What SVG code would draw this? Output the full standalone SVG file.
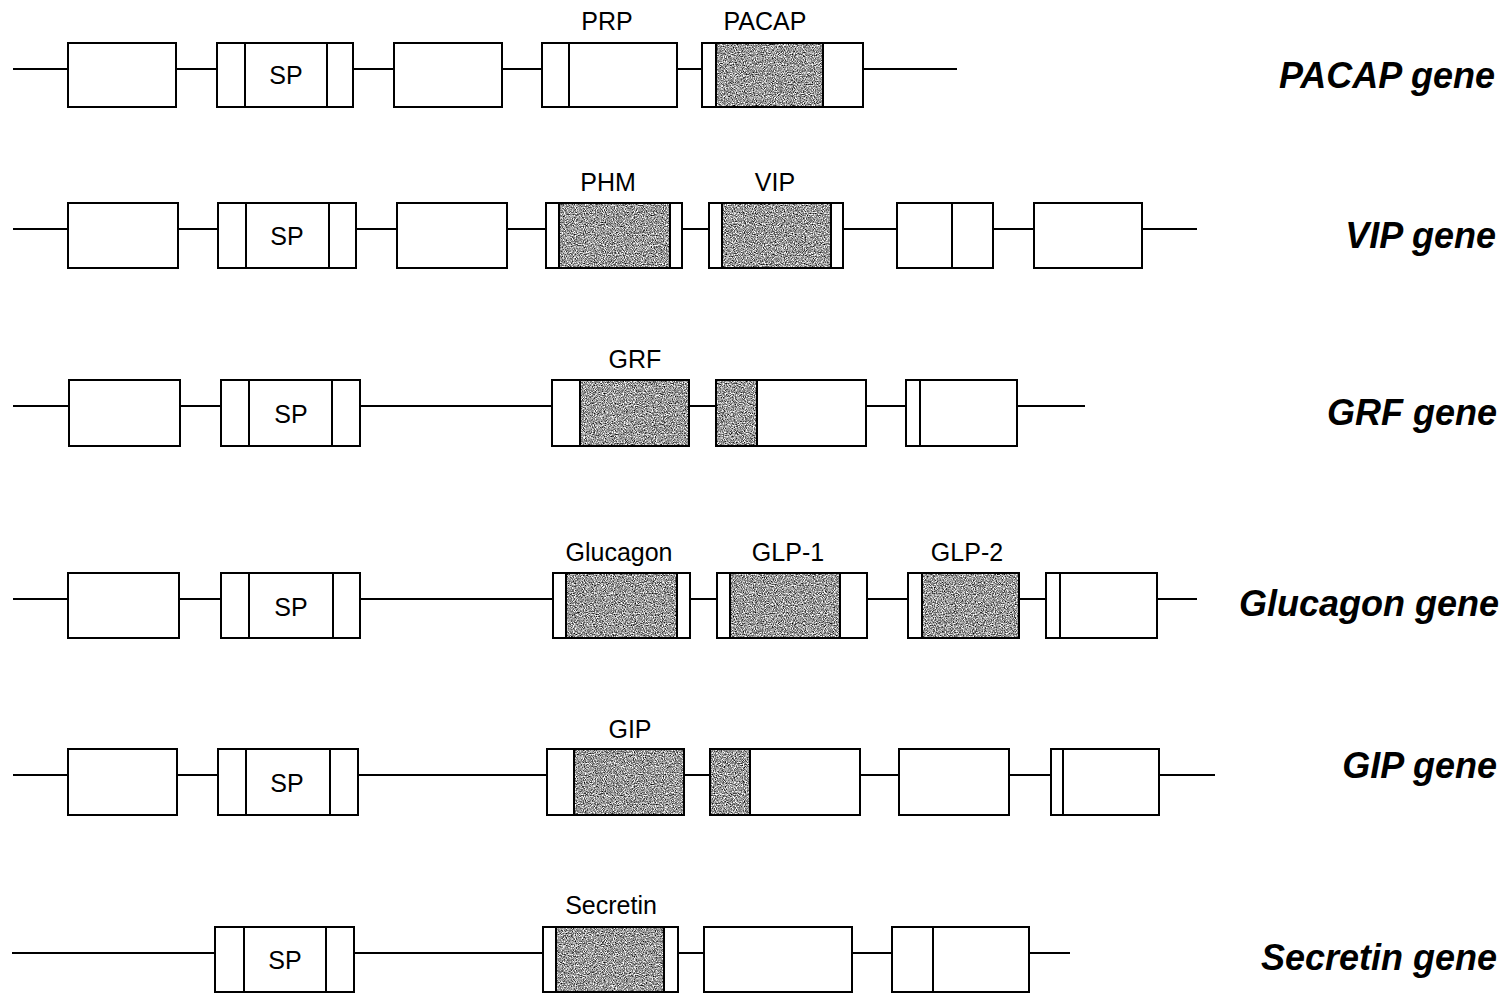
<svg xmlns="http://www.w3.org/2000/svg" width="1512" height="994" viewBox="0 0 1512 994">
<style>
.ex{fill:none;stroke:#000;stroke-width:2}
.dv{stroke:#000;stroke-width:2}
.ln{stroke:#000;stroke-width:2}
.sh{fill:#9c9c9c;filter:url(#grain)}
.lb{font-family:"Liberation Sans",Arial,sans-serif;font-size:25px;fill:#000;text-anchor:middle}
.gn{font-family:"Liberation Sans",Arial,sans-serif;font-size:36px;font-weight:bold;font-style:italic;fill:#000;text-anchor:end}
</style>
<defs>
<filter id="grain" x="0" y="0" width="1" height="1" color-interpolation-filters="sRGB">
<feTurbulence type="fractalNoise" baseFrequency="0.9" numOctaves="2" seed="7" result="n"/>
<feColorMatrix in="n" type="matrix" values="1.8 0 0 0 -0.3  1.8 0 0 0 -0.3  1.8 0 0 0 -0.3  0 0 0 0 1" result="g"/>
<feComposite in="g" in2="SourceGraphic" operator="in"/>
</filter>
</defs>
<rect x="0" y="0" width="1512" height="994" fill="#fff"/>

<g id="connectors">
<line class="ln" x1="13" y1="69" x2="68" y2="69"/>
<line class="ln" x1="176" y1="69" x2="217" y2="69"/>
<line class="ln" x1="353" y1="69" x2="394" y2="69"/>
<line class="ln" x1="502" y1="69" x2="542" y2="69"/>
<line class="ln" x1="677" y1="69" x2="702" y2="69"/>
<line class="ln" x1="863" y1="69" x2="957" y2="69"/>
<line class="ln" x1="13" y1="229" x2="68" y2="229"/>
<line class="ln" x1="178" y1="229" x2="218" y2="229"/>
<line class="ln" x1="356" y1="229" x2="397" y2="229"/>
<line class="ln" x1="507" y1="229" x2="546" y2="229"/>
<line class="ln" x1="682" y1="229" x2="709" y2="229"/>
<line class="ln" x1="843" y1="229" x2="897" y2="229"/>
<line class="ln" x1="993" y1="229" x2="1034" y2="229"/>
<line class="ln" x1="1142" y1="229" x2="1197" y2="229"/>
<line class="ln" x1="13" y1="406" x2="69" y2="406"/>
<line class="ln" x1="180" y1="406" x2="221" y2="406"/>
<line class="ln" x1="360" y1="406" x2="552" y2="406"/>
<line class="ln" x1="689" y1="406" x2="716" y2="406"/>
<line class="ln" x1="866" y1="406" x2="906" y2="406"/>
<line class="ln" x1="1017" y1="406" x2="1085" y2="406"/>
<line class="ln" x1="13" y1="599" x2="68" y2="599"/>
<line class="ln" x1="179" y1="599" x2="221" y2="599"/>
<line class="ln" x1="360" y1="599" x2="553" y2="599"/>
<line class="ln" x1="690" y1="599" x2="717" y2="599"/>
<line class="ln" x1="867" y1="599" x2="908" y2="599"/>
<line class="ln" x1="1019" y1="599" x2="1046" y2="599"/>
<line class="ln" x1="1157" y1="599" x2="1197" y2="599"/>
<line class="ln" x1="13" y1="775" x2="68" y2="775"/>
<line class="ln" x1="177" y1="775" x2="218" y2="775"/>
<line class="ln" x1="358" y1="775" x2="547" y2="775"/>
<line class="ln" x1="684" y1="775" x2="710" y2="775"/>
<line class="ln" x1="860" y1="775" x2="899" y2="775"/>
<line class="ln" x1="1009" y1="775" x2="1051" y2="775"/>
<line class="ln" x1="1159" y1="775" x2="1215" y2="775"/>
<line class="ln" x1="12" y1="953" x2="215" y2="953"/>
<line class="ln" x1="354" y1="953" x2="543" y2="953"/>
<line class="ln" x1="678" y1="953" x2="704" y2="953"/>
<line class="ln" x1="852" y1="953" x2="892" y2="953"/>
<line class="ln" x1="1029" y1="953" x2="1070" y2="953"/>
</g>

<g id="pacap-gene">
<g id="pacap-e1"><rect class="ex" x="68" y="43" width="108" height="64"/></g>
<g id="pacap-sp"><rect class="ex" x="217" y="43" width="136" height="64"/><line class="dv" x1="245" y1="43" x2="245" y2="107"/><line class="dv" x1="327" y1="43" x2="327" y2="107"/><text class="lb" x="286" y="84">SP</text></g>
<g id="pacap-e3"><rect class="ex" x="394" y="43" width="108" height="64"/></g>
<g id="pacap-prp"><rect class="ex" x="542" y="43" width="135" height="64"/><line class="dv" x1="569" y1="43" x2="569" y2="107"/><text class="lb" x="607" y="30">PRP</text></g>
<g id="pacap-pacap"><rect class="sh" x="716" y="43" width="107" height="64"/><rect class="ex" x="702" y="43" width="161" height="64"/><line class="dv" x1="716" y1="43" x2="716" y2="107"/><line class="dv" x1="823" y1="43" x2="823" y2="107"/><text class="lb" x="765" y="30">PACAP</text></g>
<text class="gn" x="1495" y="88">PACAP gene</text>
</g>

<g id="vip-gene">
<g id="vip-e1"><rect class="ex" x="68" y="203" width="110" height="65"/></g>
<g id="vip-sp"><rect class="ex" x="218" y="203" width="138" height="65"/><line class="dv" x1="246" y1="203" x2="246" y2="268"/><line class="dv" x1="329" y1="203" x2="329" y2="268"/><text class="lb" x="287" y="245">SP</text></g>
<g id="vip-e3"><rect class="ex" x="397" y="203" width="110" height="65"/></g>
<g id="vip-phm"><rect class="sh" x="559" y="203" width="111" height="65"/><rect class="ex" x="546" y="203" width="136" height="65"/><line class="dv" x1="559" y1="203" x2="559" y2="268"/><line class="dv" x1="670" y1="203" x2="670" y2="268"/><text class="lb" x="608" y="191">PHM</text></g>
<g id="vip-vip"><rect class="sh" x="722" y="203" width="109" height="65"/><rect class="ex" x="709" y="203" width="134" height="65"/><line class="dv" x1="722" y1="203" x2="722" y2="268"/><line class="dv" x1="831" y1="203" x2="831" y2="268"/><text class="lb" x="775" y="191">VIP</text></g>
<g id="vip-e6"><rect class="ex" x="897" y="203" width="96" height="65"/><line class="dv" x1="952" y1="203" x2="952" y2="268"/></g>
<g id="vip-e7"><rect class="ex" x="1034" y="203" width="108" height="65"/></g>
<text class="gn" x="1496" y="248">VIP gene</text>
</g>

<g id="grf-gene">
<g id="grf-e1"><rect class="ex" x="69" y="380" width="111" height="66"/></g>
<g id="grf-sp"><rect class="ex" x="221" y="380" width="139" height="66"/><line class="dv" x1="249" y1="380" x2="249" y2="446"/><line class="dv" x1="332" y1="380" x2="332" y2="446"/><text class="lb" x="291" y="423">SP</text></g>
<g id="grf-grf"><rect class="sh" x="580" y="380" width="109" height="66"/><rect class="ex" x="552" y="380" width="137" height="66"/><line class="dv" x1="580" y1="380" x2="580" y2="446"/><text class="lb" x="635" y="368">GRF</text></g>
<g id="grf-e4"><rect class="sh" x="716" y="380" width="41" height="66"/><rect class="ex" x="716" y="380" width="150" height="66"/><line class="dv" x1="757" y1="380" x2="757" y2="446"/></g>
<g id="grf-e5"><rect class="ex" x="906" y="380" width="111" height="66"/><line class="dv" x1="920" y1="380" x2="920" y2="446"/></g>
<text class="gn" x="1497" y="425">GRF gene</text>
</g>

<g id="glucagon-gene">
<g id="glu-e1"><rect class="ex" x="68" y="573" width="111" height="65"/></g>
<g id="glu-sp"><rect class="ex" x="221" y="573" width="139" height="65"/><line class="dv" x1="249" y1="573" x2="249" y2="638"/><line class="dv" x1="333" y1="573" x2="333" y2="638"/><text class="lb" x="291" y="616">SP</text></g>
<g id="glu-glucagon"><rect class="sh" x="566" y="573" width="111" height="65"/><rect class="ex" x="553" y="573" width="137" height="65"/><line class="dv" x1="566" y1="573" x2="566" y2="638"/><line class="dv" x1="677" y1="573" x2="677" y2="638"/><text class="lb" x="619" y="561">Glucagon</text></g>
<g id="glu-glp1"><rect class="sh" x="730" y="573" width="110" height="65"/><rect class="ex" x="717" y="573" width="150" height="65"/><line class="dv" x1="730" y1="573" x2="730" y2="638"/><line class="dv" x1="840" y1="573" x2="840" y2="638"/><text class="lb" x="788" y="561">GLP-1</text></g>
<g id="glu-glp2"><rect class="sh" x="922" y="573" width="97" height="65"/><rect class="ex" x="908" y="573" width="111" height="65"/><line class="dv" x1="922" y1="573" x2="922" y2="638"/><text class="lb" x="967" y="561">GLP-2</text></g>
<g id="glu-e6"><rect class="ex" x="1046" y="573" width="111" height="65"/><line class="dv" x1="1060" y1="573" x2="1060" y2="638"/></g>
<text class="gn" x="1499" y="616">Glucagon gene</text>
</g>

<g id="gip-gene">
<g id="gip-e1"><rect class="ex" x="68" y="749" width="109" height="66"/></g>
<g id="gip-sp"><rect class="ex" x="218" y="749" width="140" height="66"/><line class="dv" x1="246" y1="749" x2="246" y2="815"/><line class="dv" x1="330" y1="749" x2="330" y2="815"/><text class="lb" x="287" y="792">SP</text></g>
<g id="gip-gip"><rect class="sh" x="574" y="749" width="110" height="66"/><rect class="ex" x="547" y="749" width="137" height="66"/><line class="dv" x1="574" y1="749" x2="574" y2="815"/><text class="lb" x="630" y="738">GIP</text></g>
<g id="gip-e4"><rect class="sh" x="710" y="749" width="40" height="66"/><rect class="ex" x="710" y="749" width="150" height="66"/><line class="dv" x1="750" y1="749" x2="750" y2="815"/></g>
<g id="gip-e5"><rect class="ex" x="899" y="749" width="110" height="66"/></g>
<g id="gip-e6"><rect class="ex" x="1051" y="749" width="108" height="66"/><line class="dv" x1="1063" y1="749" x2="1063" y2="815"/></g>
<text class="gn" x="1497" y="778">GIP gene</text>
</g>

<g id="secretin-gene">
<g id="sec-sp"><rect class="ex" x="215" y="927" width="139" height="65"/><line class="dv" x1="244" y1="927" x2="244" y2="992"/><line class="dv" x1="326" y1="927" x2="326" y2="992"/><text class="lb" x="285" y="969">SP</text></g>
<g id="sec-secretin"><rect class="sh" x="556" y="927" width="108" height="65"/><rect class="ex" x="543" y="927" width="135" height="65"/><line class="dv" x1="556" y1="927" x2="556" y2="992"/><line class="dv" x1="664" y1="927" x2="664" y2="992"/><text class="lb" x="611" y="914">Secretin</text></g>
<g id="sec-e3"><rect class="ex" x="704" y="927" width="148" height="65"/></g>
<g id="sec-e4"><rect class="ex" x="892" y="927" width="137" height="65"/><line class="dv" x1="933" y1="927" x2="933" y2="992"/></g>
<text class="gn" x="1497" y="970">Secretin gene</text>
</g>
</svg>
